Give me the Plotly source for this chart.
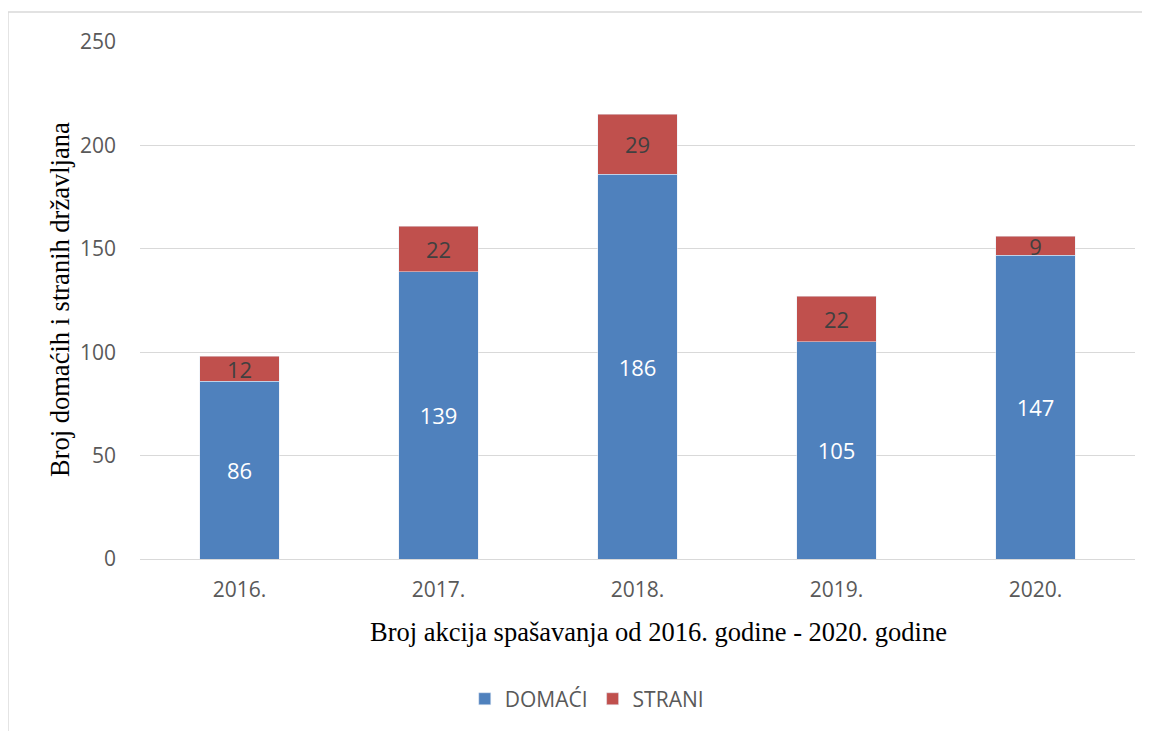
import plotly.graph_objects as go

years = ["2016.", "2017.", "2018.", "2019.", "2020."]
domaci = [86, 139, 186, 105, 147]
strani = [12, 22, 29, 22, 9]
y_ticks = [0, 50, 100, 150, 200, 250]

sans = "Open Sans, Liberation Sans, sans-serif"
serif = "Liberation Serif, Times New Roman, serif"

fig = go.Figure()
fig.add_trace(go.Bar(
    x=years, y=domaci, name="DOMAĆI", marker_color="#4F81BD",
    text=domaci, textposition="inside", insidetextanchor="middle",
    textangle=0, constraintext="none",
    textfont=dict(color="white", size=22, family=sans),
))
fig.add_trace(go.Bar(
    x=years, y=strani, name="STRANI", marker_color="#C0504D",
    text=strani, textposition="inside", insidetextanchor="middle",
    textangle=0, constraintext="none",
    textfont=dict(color="#404040", size=22, family=sans),
))

fig.update_layout(
    barmode="stack",
    bargap=0.6,
    width=1142, height=723,
    margin=dict(l=132, r=15, t=34, b=172),
    plot_bgcolor="white", paper_bgcolor="white",
    showlegend=True,
    legend=dict(orientation="h", x=0.449, xanchor="center", y=-0.271, yanchor="middle",
                font=dict(size=21, color="#595959", family=sans),
                traceorder="normal"),
    xaxis=dict(showline=False, tickfont=dict(size=21, color="#595959", family=sans),
               ticks="", ticklabelstandoff=16),
    yaxis=dict(range=[0, 250], tickvals=y_ticks, showgrid=True, gridcolor="#d9d9d9",
               gridwidth=1.3, zeroline=True, zerolinecolor="#d9d9d9", zerolinewidth=1.3,
               tickfont=dict(size=21, color="#595959", family=sans), ticks="",
               ticklabelstandoff=23),
    annotations=[
        dict(text="Broj akcija spašavanja od 2016. godine - 2020. godine",
             xref="paper", yref="paper", x=0.521, y=-0.141, xanchor="center", yanchor="middle",
             showarrow=False, font=dict(size=26.5, color="black", family=serif)),
        dict(text="Broj domaćih i stranih državljana", textangle=-90,
             xref="paper", yref="paper", x=-0.0804, y=0.501, xanchor="center", yanchor="middle",
             showarrow=False, font=dict(size=26.5, color="black", family=serif)),
    ],
    shapes=[
        dict(type="line", xref="paper", yref="paper", x0=-0.1327, x1=1.03, y0=1.058, y1=1.058,
             line=dict(color="#d9d9d9", width=1.5)),
        dict(type="line", xref="paper", yref="paper", x0=-0.1327, x1=-0.1327, y0=1.058, y1=-0.4,
             line=dict(color="#d9d9d9", width=1.5)),
    ],
)

fig.write_html("out.html")
